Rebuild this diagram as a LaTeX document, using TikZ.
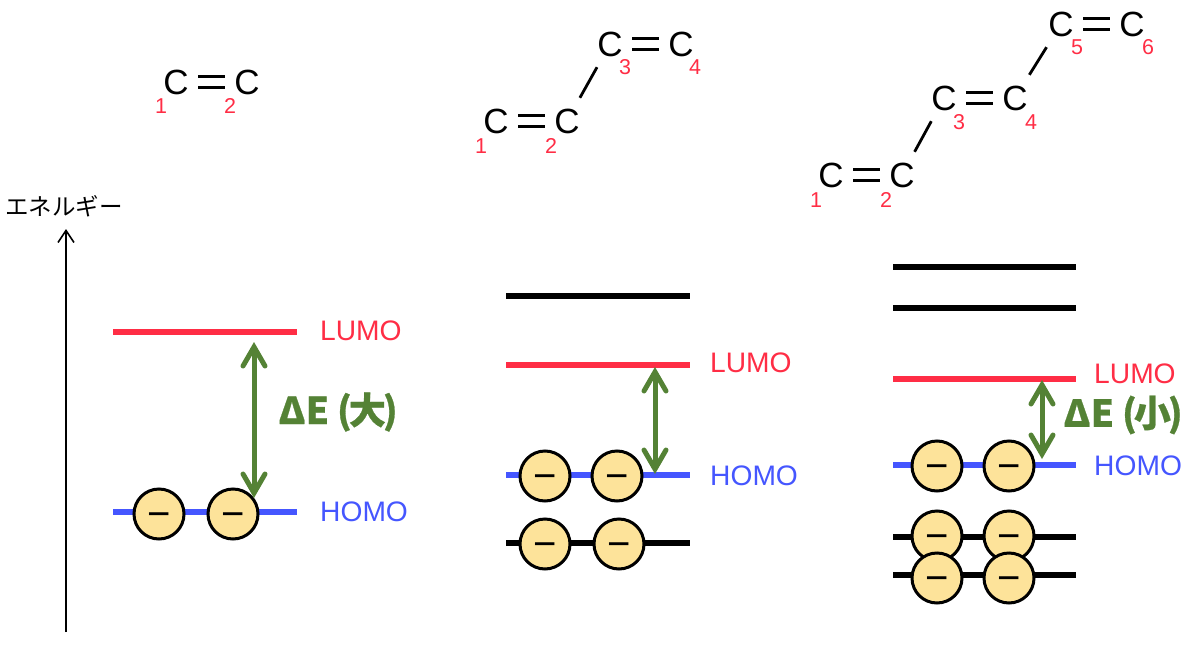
\documentclass[tikz,border=0pt]{standalone}
\usepackage{fontspec}
\setmainfont{Liberation Sans}
\newfontfamily\jpfont{Noto Sans CJK JP}
\newfontfamily\jpheavy[BoldFeatures={FakeBold=0.7}]{Noto Sans CJK JP}
\usetikzlibrary{arrows.meta,positioning}
\definecolor{OrbitalRed}{HTML}{FF2D45}
\definecolor{OrbitalBlue}{HTML}{4556FF}
\definecolor{GapGreen}{HTML}{548235}
\definecolor{ElectronFill}{HTML}{FDE39A}
\tikzset{
  atom/.style={inner sep=0pt,minimum width=44pt,minimum height=46pt,font=\fontsize{35}{35}\selectfont},
  atomnum/.style={inner sep=0pt,text=OrbitalRed,font=\fontsize{21.5}{21.5}\selectfont},
  bond/.style={line width=2.8pt,draw=black},
  dbond/.style={draw=black,line width=3pt,double=white,double distance=8pt},
  level/.style={line width=6pt,draw=black},
  lumo/.style={level,draw=OrbitalRed},
  homo/.style={level,draw=OrbitalBlue},
  lumotext/.style={anchor=west,inner sep=0pt,text=OrbitalRed,font=\fontsize{28.2}{28.2}\selectfont},
  homotext/.style={anchor=west,inner sep=0pt,text=OrbitalBlue,font=\fontsize{28.2}{28.2}\selectfont},
  electron/.style={circle,draw=black,line width=3pt,fill=ElectronFill,inner sep=0pt,minimum size=50pt,text height=27pt,text depth=0pt,font=\fontsize{40}{40}\selectfont},
  gaphead/.style={},
  gap/.style={{Straight Barb[length=19pt,width=22pt,line width=5pt,line cap=round]}-{Straight Barb[length=19pt,width=22pt,line width=5pt,line cap=round]},line width=5pt,draw=GapGreen},
  gaptext/.style={inner sep=0pt,text=GapGreen,font=\fontsize{37}{37}\selectfont\jpheavy\bfseries},
  axis/.style={-{Straight Barb[length=12pt,width=16pt]},line width=1.6pt,draw=black}
}
\begin{document}
\begin{tikzpicture}[x=1pt,y=-1pt,node distance=26.5pt]
  \useasboundingbox (0,0) rectangle (1200,648);
  % energy axis
  \coordinate (axisfoot) at (66,632);
  \coordinate (axishead) at (66,229);
  \draw[axis] (axisfoot) -- (axishead);
  \node[inner sep=0pt,font=\fontsize{23.5}{23.5}\selectfont\jpfont] (axislabel) at (64,206) {エネルギー};

  % ethylene
  \node[atom] (a1) at (176,82) {C};
  \node[atom,right=of a1] (a2) {C};
  \draw[dbond] (a1) -- (a2);
  \node[atomnum] (a1n) at (161,106) {1};
  \node[atomnum] (a2n) at (230,106) {2};

  \draw[lumo] (113,332) -- (297,332) coordinate (alumo);
  \draw[homo] (113,512) -- (297,512) coordinate (ahomo);
  \node[lumotext] (alumot) at (320,331) {LUMO};
  \node[homotext] (ahomot) at (320,512) {HOMO};
  \node[electron] (ae1) at (159,514) {−};
  \node[electron] (ae2) at (233,514) {−};
  \coordinate (agapt) at (254,342);
  \coordinate (agapb) at (254,498);
  \draw[gap] (agapb) -- (agapt);
  \node[gaptext] (agapl) at (338,412) {ΔE\hspace{8pt}(\hspace{-3pt}大\hspace{-3pt})};

  % butadiene
  \node[atom] (b1) at (496,121) {C};
  \node[atom,right=of b1] (b2) {C};
  \node[atom] (b3) at (610,44) {C};
  \node[atom,right=of b3] (b4) {C};
  \draw[dbond] (b1) -- (b2);
  \draw[bond] (b2) -- (b3);
  \draw[dbond] (b3) -- (b4);
  \node[atomnum] (b1n) at (481,146) {1};
  \node[atomnum] (b2n) at (551,146) {2};
  \node[atomnum] (b3n) at (625,67) {3};
  \node[atomnum] (b4n) at (695,67) {4};

  \draw[level] (506,296) -- (690,296);
  \draw[lumo] (506,365) -- (690,365);
  \draw[homo] (506,475) -- (690,475);
  \draw[level] (506,543) -- (690,543);
  \node[lumotext] (blumot) at (710,363) {LUMO};
  \node[homotext] (bhomot) at (710,476) {HOMO};
  \node[electron] (be1) at (545,476) {−};
  \node[electron] (be2) at (617,476) {−};
  \node[electron] (be3) at (545,544) {−};
  \node[electron] (be4) at (619,544) {−};
  \coordinate (bgapt) at (655,367);
  \coordinate (bgapb) at (655,474);
  \draw[gap] (bgapb) -- (bgapt);

  % hexatriene
  \node[atom] (c1) at (831,175) {C};
  \node[atom,right=of c1] (c2) {C};
  \node[atom] (c3) at (944,98) {C};
  \node[atom,right=of c3] (c4) {C};
  \node[atom] (c5) at (1061,24) {C};
  \node[atom,right=of c5] (c6) {C};
  \draw[dbond] (c1) -- (c2);
  \draw[bond] (c2) -- (c3);
  \draw[dbond] (c3) -- (c4);
  \draw[bond] (c4) -- (c5);
  \draw[dbond] (c5) -- (c6);
  \node[atomnum] (c1n) at (816,200) {1};
  \node[atomnum] (c2n) at (886,200) {2};
  \node[atomnum] (c3n) at (959,122) {3};
  \node[atomnum] (c4n) at (1031,122) {4};
  \node[atomnum] (c5n) at (1077,47) {5};
  \node[atomnum] (c6n) at (1148,47) {6};

  \draw[level] (893,267) -- (1076,267);
  \draw[level] (893,308) -- (1076,308);
  \draw[lumo] (893,379) -- (1076,379);
  \draw[homo] (893,465) -- (1076,465);
  \draw[level] (893,537) -- (1076,537);
  \draw[level] (893,575) -- (1076,575);
  \node[lumotext] (clumot) at (1094,374) {LUMO};
  \node[homotext] (chomot) at (1094,466) {HOMO};
  \node[electron] (ce1) at (937,466) {−};
  \node[electron] (ce2) at (1009,466) {−};
  \node[electron] (ce3) at (937,536) {−};
  \node[electron] (ce4) at (1009,536) {−};
  \node[electron] (ce5) at (937,578) {−};
  \node[electron] (ce6) at (1009,578) {−};
  \coordinate (cgapt) at (1042,380);
  \coordinate (cgapb) at (1042,459);
  \draw[gap] (cgapb) -- (cgapt);
  \node[gaptext] (cgapl) at (1123,415) {ΔE\hspace{8pt}(\hspace{-3pt}小\hspace{-3pt})};
\end{tikzpicture}
\end{document}
